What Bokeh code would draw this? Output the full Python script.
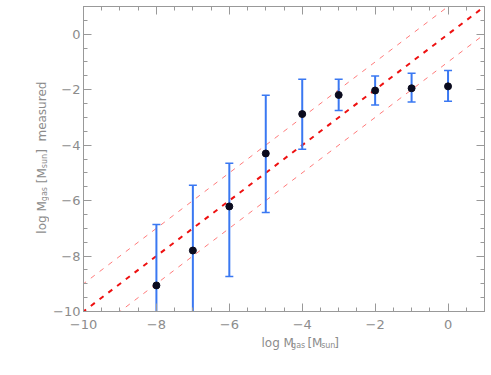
import numpy as np
from bokeh.plotting import figure
from bokeh.layouts import row, column
from bokeh.models import (Range1d, FixedTicker, LinearAxis, ColumnDataSource,
                          CustomLabelingPolicy)
from bokeh.core.properties import value
from bokeh.embed import file_html
from bokeh.resources import INLINE

# ---- data ----
x_true = [-8, -7, -6, -5, -4, -3, -2, -1, 0]
y_meas = [-9.06, -7.80, -6.21, -4.30, -2.88, -2.19, -2.03, -1.95, -1.88]
y_upper = [-6.86, -5.45, -4.65, -2.20, -1.62, -1.62, -1.51, -1.41, -1.31]
y_lower = [-11.5, -10.6, -8.74, -6.43, -4.15, -2.75, -2.55, -2.44, -2.42]
major_ticks = [-10, -8, -6, -4, -2, 0]
minor_ticks = [float(v) for v in np.arange(-10, 1.01, 0.5)]
line_x = [-11, 2]
offsets = [0, 1, -1]
# (text, is_subscript, number of spaces before it)
x_title = [("log M", False, 0), ("gas", True, 0), ("[M", False, 1), ("sun", True, 0), ("]", False, 0)]
y_title = x_title + [("measured", False, 2)]

AX = "#999999"
TX = "#8c8c8c"
FONT = "DejaVu Sans"
BLUE = "#3a78f2"

# ---- layout sizes (px) ----
LEFT_W = 49
FW, FH = 401, 305
BL, BR, BT, BB = 34, 5, 6, 24
MAIN_W = BL + FW + BR
MAIN_H = BT + FH + BB
BOT_H = 38

p = figure(frame_width=FW, frame_height=FH, output_backend="svg", toolbar_location=None,
           x_range=Range1d(-10, 1), y_range=Range1d(-10, 1),
           min_border_left=BL, min_border_right=BR, min_border_top=BT, min_border_bottom=BB)
p.grid.visible = False
p.outline_line_color = AX

def style(ax, labels=True, standoff=6):
    ax.ticker = FixedTicker(ticks=major_ticks, minor_ticks=minor_ticks)
    ax.major_tick_in = 8
    ax.major_tick_out = 0
    ax.minor_tick_in = 4
    ax.minor_tick_out = 0
    ax.axis_line_color = AX
    ax.major_tick_line_color = AX
    ax.minor_tick_line_color = AX
    ax.major_label_text_color = TX
    ax.major_label_text_font = FONT
    ax.axis_label = None
    if labels:
        ax.major_label_text_font_size = "13px"
        ax.major_label_standoff = standoff
    else:
        ax.major_label_text_font_size = "0px"
        ax.major_label_standoff = 0
        ax.major_label_policy = CustomLabelingPolicy(code="return new Set()")

style(p.xaxis[0], True, 8)
style(p.yaxis[0], True, 3)
top_ax = LinearAxis()
right_ax = LinearAxis()
style(top_ax, False)
style(right_ax, False)
p.add_layout(top_ax, "above")
p.add_layout(right_ax, "right")

# one-to-one line and +-1 dex lines
for off in offsets:
    ly = [v + off for v in line_x]
    if off == 0:
        p.line(line_x, ly, line_color="#ee1111", line_width=2, line_dash="5 6")
    else:
        p.line(line_x, ly, line_color="#ff7a7a", line_width=1, line_dash="5 6")

src = ColumnDataSource(dict(x=x_true, y=y_meas, up=y_upper, lo=y_lower))
p.segment(x0="x", y0="lo", x1="x", y1="up", source=src, line_color=BLUE, line_width=2)
p.scatter(x="x", y="up", source=src, marker="dash", size=8, line_color=BLUE, line_width=1.5)
p.scatter(x="x", y="lo", source=src, marker="dash", size=8, line_color=BLUE, line_width=1.5)
p.scatter(x="x", y="y", source=src, size=7, fill_color="#0b0b1e", line_color="#0b0b1e")

# ---- axis titles (with subscripts) in small text panels ----
W = {'l': .278, 'o': .612, 'g': .635, ' ': .318, 'M': .863, '[': .390, ']': .390,
     'a': .613, 's': .521, 'u': .634, 'n': .634, 'm': .974, 'e': .615, 'r': .411, 'd': .635}
BIG, SMALL, SUB = 12, 8, 3

def size_of(sub):
    return SMALL if sub else BIG

def width(t, sub):
    return sum(W.get(c, .6) for c in t) * size_of(sub)

def gap(n):
    return n * W[' '] * BIG

def total(parts):
    return sum(width(t, s) + gap(g) for t, s, g in parts)

def panel(w, h):
    f = figure(width=w, height=h, output_backend="svg", toolbar_location=None,
               x_range=Range1d(0, w), y_range=Range1d(0, h),
               x_axis_location=None, y_axis_location=None,
               min_border=0)
    f.grid.visible = False
    f.outline_line_color = None
    return f

# x title below the plot
bot = panel(MAIN_W, BOT_H)
cx = BL + FW / 2 + 3
base_y = BOT_H - 7
pos = cx - total(x_title) / 2
for t, s, g in x_title:
    pos += gap(g)
    bot.text(x=[pos], y=[base_y - (SUB if s else 0)], text=[t], text_font=value(FONT),
             text_font_size=value(f"{size_of(s)}px"), text_color=TX,
             text_align="left", text_baseline="alphabetic")
    pos += width(t, s)

# y title left of the plot (rotated)
left = panel(LEFT_W, MAIN_H)
base_x = 41
cy = MAIN_H - 157
pos = cy - total(y_title) / 2
for t, s, g in y_title:
    pos += gap(g)
    left.text(x=[base_x + (SUB if s else 0)], y=[pos], text=[t], angle=np.pi / 2,
              text_font=value(FONT), text_font_size=value(f"{size_of(s)}px"), text_color=TX,
              text_align="left", text_baseline="alphabetic")
    pos += width(t, s)

layout = row(left, column(p, bot, spacing=0), spacing=0)
open("out.html", "w").write(file_html(layout, INLINE))
